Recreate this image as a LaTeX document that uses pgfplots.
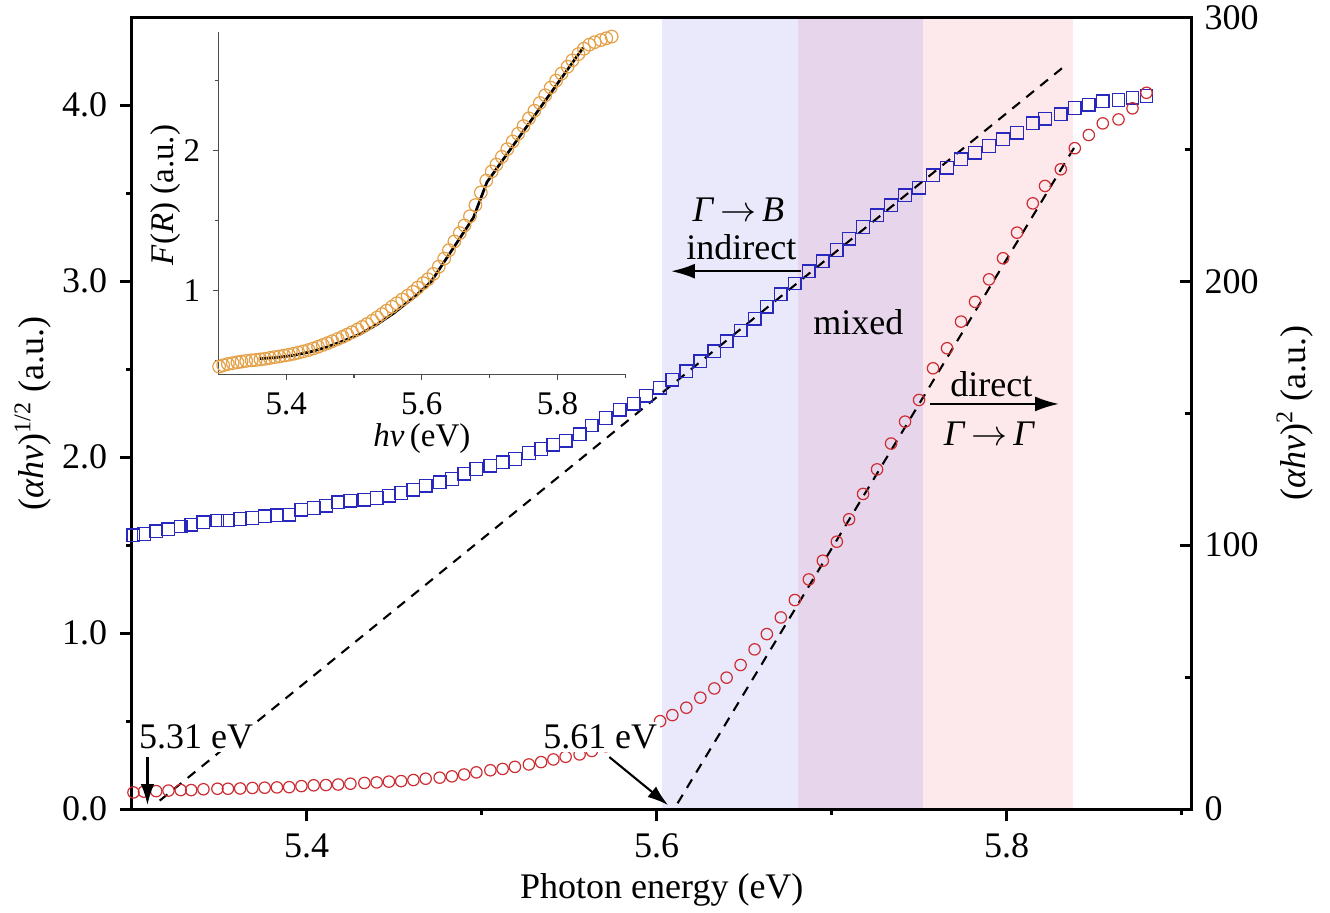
\documentclass[12pt,border=0pt]{standalone}
\usepackage{fontspec}
\setmainfont{Liberation Serif}
\usepackage{pgfplots}
\usepackage{pgfplotstable}
\pgfplotsset{compat=1.18}
\usetikzlibrary{arrows.meta}

\definecolor{bandblue}{RGB}{233,233,251}
\definecolor{bandmix}{RGB}{231,214,235}
\definecolor{bandpink}{RGB}{253,233,235}
\definecolor{sqblue}{RGB}{40,40,190}
\definecolor{cred}{RGB}{205,45,50}
\definecolor{corange}{RGB}{228,160,70}

% E: photon energy, sq: (ahv)^1/2, ci: (ahv)^2, FR: Kubelka-Munk F(R)
\pgfplotstableread{
E     sq    ci    FR
5.301 1.555 6.3   0.455
5.307 1.563 6.6   0.465
5.314 1.578 6.8   0.474
5.321 1.591 7.0   0.480
5.328 1.606 7.2   0.486
5.334 1.616 7.2   0.491
5.341 1.629 7.5   0.496
5.349 1.640 7.7   0.500
5.355 1.640 7.7   0.503
5.362 1.648 7.8   0.507
5.369 1.654 8.0   0.511
5.376 1.663 8.1   0.517
5.383 1.669 8.2   0.523
5.390 1.673 8.3   0.528
5.397 1.701 8.7   0.534
5.404 1.711 9.0   0.540
5.411 1.724 9.1   0.547
5.418 1.743 9.3   0.555
5.425 1.752 9.6   0.564
5.433 1.758 9.9   0.574
5.440 1.768 10.1  0.585
5.447 1.781 10.4  0.597
5.454 1.796 10.6  0.610
5.461 1.815 11.0  0.623
5.468 1.838 11.5  0.637
5.476 1.857 11.9  0.653
5.483 1.876 12.4  0.668
5.490 1.906 13.1  0.684
5.497 1.933 13.9  0.701
5.505 1.952 14.7  0.720
5.512 1.970 15.2  0.739
5.519 1.990 16.0  0.759
5.527 2.024 16.9  0.783
5.534 2.047 17.8  0.806
5.541 2.071 18.8  0.830
5.548 2.094 19.8  0.855
5.556 2.130 20.7  0.883
5.563 2.180 22.0  0.908
5.571 2.223 23.8  0.935
5.579 2.270 25.8  0.962
5.587 2.304 28.0  0.990
5.594 2.350 30.5  1.020
5.602 2.394 33.3  1.052
5.609 2.441 35.6  1.080
5.617 2.488 38.4  1.118
5.625 2.545 42.2  1.170
5.633 2.602 45.7  1.228
5.640 2.659 49.8  1.288
5.648 2.720 54.6  1.350
5.656 2.786 60.5  1.410
5.663 2.855 66.3  1.465
5.671 2.925 72.6  1.530
5.679 2.987 79.2  1.610
5.687 3.057 87.0  1.700
5.695 3.114 94.1  1.785
5.703 3.177 101.3 1.850
5.710 3.241 109.8 1.900
5.718 3.308 119.4 1.955
5.726 3.374 128.7 2.010
5.734 3.431 138.5 2.065
5.742 3.488 146.8 2.120
5.750 3.532 155.0 2.175
5.758 3.602 167.0 2.230
5.766 3.645 174.6 2.285
5.774 3.693 184.7 2.340
5.782 3.731 192.2 2.395
5.790 3.768 200.7 2.450
5.798 3.807 208.7 2.500
5.806 3.845 218.4 2.550
5.815 3.898 229.5 2.600
5.822 3.924 236.1 2.645
5.831 3.949 242.4 2.690
5.839 3.985 250.4 2.728
5.847 4.004 255.4 2.757
5.855 4.023 259.8 2.775
5.864 4.030 261.3 2.790
5.872 4.044 265.5 2.803
5.880 4.053 271.4 2.815
}\spectra

\pgfplotsset{
  /pgf/number format/assume math mode=true,
  mainbox/.style={
    at={(0,0)}, anchor=south west,
    scale only axis, width=353.4pt, height=263.9pt,
    xmin=5.30, xmax=5.906,
    axis line style={line width=1pt},
    every tick/.style={black, line width=1pt},
  },
}

\begin{document}
\begin{tikzpicture}
\path[use as bounding box] (-43.9pt,-34.33pt) rectangle (399.4pt,269.67pt);

% left axis: (ahv)^1/2, indirect
\begin{axis}[
  mainbox,
  ymin=0, ymax=4.5,
  axis on top,
  tick align=outside,
  xtick pos=left, ytick pos=left,
  major tick length=4pt, minor tick length=2pt,
  xtick={5.4,5.6,5.8}, minor xtick={5.5,5.7,5.9},
  ytick={0,1,2,3,4}, minor ytick={0.5,1.5,2.5,3.5},
  xticklabel style={/pgf/number format/fixed, /pgf/number format/precision=1},
  yticklabel style={/pgf/number format/fixed, /pgf/number format/fixed zerofill, /pgf/number format/precision=1},
  xlabel={Photon energy (eV)},
  ylabel={(\textit{αhν})\textsuperscript{1/2} (a.u.)},
  xlabel style={at={(axis description cs:0.5,0)}, anchor=base, yshift=-29.7pt},
  ylabel style={at={(axis description cs:-0.0934,0.5)}, anchor=center},
]
\fill[bandblue] (axis cs:5.603,0) rectangle (axis cs:5.681,4.5);
\fill[bandmix]  (axis cs:5.681,0) rectangle (axis cs:5.752,4.5);
\fill[bandpink] (axis cs:5.752,0) rectangle (axis cs:5.838,4.5);
\addplot[only marks, mark=square, mark size=2.1pt, sqblue, mark options={line width=0.45pt}]
  table[x=E, y=sq] {\spectra};
\addplot[black, line width=0.7pt, dash pattern=on 3.3pt off 2.7pt]
  coordinates {(5.316,0.048) (5.834,4.229)};
\end{axis}

% right axis: (ahv)^2, direct
\begin{axis}[
  mainbox,
  ymin=0, ymax=300,
  axis x line=none, axis y line*=right,
  tick align=inside,
  major tick length=4pt, minor tick length=2.3pt,
  ytick={0,100,200,300}, minor ytick={50,150,250},
  ylabel={(\textit{αhν})\textsuperscript{2} (a.u.)},
  ylabel style={at={(axis description cs:1.097,0.5)}, anchor=center},
]
\addplot[only marks, mark=o, mark size=1.9pt, cred, mark options={line width=0.4pt}]
  table[x=E, y=ci] {\spectra};
\addplot[black, line width=0.7pt, dash pattern=on 3.3pt off 2.7pt]
  coordinates {(5.612,2.2) (5.839,251)};

\coordinate (t531) at (axis cs:5.3368,27.3);
\coordinate (a531a) at (axis cs:5.309,19.7);
\coordinate (a531b) at (axis cs:5.309,1.5);
\coordinate (t561) at (axis cs:5.5678,27.3);
\coordinate (a561a) at (axis cs:5.573,19.7);
\coordinate (a561b) at (axis cs:5.6066,1.5);
\coordinate (tgb) at (axis cs:5.6467,227.2);
\coordinate (tind) at (axis cs:5.6484,212.8);
\coordinate (aind1) at (axis cs:5.6825,203.8);
\coordinate (aind2) at (axis cs:5.6082,203.8);
\coordinate (tmix) at (axis cs:5.7153,184.3);
\coordinate (tdir) at (axis cs:5.7913,160.9);
\coordinate (adir1) at (axis cs:5.7561,153.5);
\coordinate (adir2) at (axis cs:5.830,153.5);
\coordinate (tgg) at (axis cs:5.7902,142.3);
\end{axis}

% annotations, on top of all markers
\node[fill=white, inner sep=1pt] at (t531) {5.31 eV};
\draw[-{Latex[length=7pt,width=4.5pt]}, line width=0.7pt] (a531a) -- (a531b);
\node[fill=white, inner sep=1pt] at (t561) {5.61 eV};
\draw[-{Latex[length=7pt,width=4.5pt]}, line width=0.7pt] (a561a) -- (a561b);
\node at (tgb) {\textit{Γ}\,$\rightarrow$\,\textit{B}};
\node at (tind) {indirect};
\draw[-{Latex[length=8pt,width=5pt]}, line width=0.8pt] (aind1) -- (aind2);
\node at (tmix) {mixed};
\node at (tdir) {direct};
\draw[-{Latex[length=8pt,width=5pt]}, line width=0.8pt] (adir1) -- (adir2);
\node at (tgg) {\textit{Γ}\,$\rightarrow$\,\textit{Γ}};

% inset: F(R)
\begin{axis}[
  at={(28.9pt,259.1pt)}, anchor=north west,
  scale only axis, width=135.6pt, height=114.2pt,
  xmin=5.30, xmax=5.90, ymin=0.4, ymax=2.85,
  axis x line*=bottom, axis y line*=left,
  axis line style={line width=0.4pt, black!70},
  every tick/.style={black!70, line width=0.4pt},
  tick align=outside,
  major tick length=1.9pt, minor tick length=1.2pt,
  xtick={5.4,5.6,5.8}, minor xtick={5.5,5.7,5.9},
  ytick={1,2}, minor ytick={0.5,1.5,2.5},
  xticklabel style={/pgf/number format/fixed, /pgf/number format/precision=1},
  tick label style={font=\fontsize{11}{13}\selectfont},
  label style={font=\fontsize{11}{13}\selectfont},
  xlabel={\textit{hν}\,(eV)},
  ylabel={\textit{F}(\textit{R}) (a.u.)},
  xlabel style={at={(axis description cs:0.5,0)}, anchor=base, yshift=-24.2pt},
  ylabel style={at={(axis description cs:-0.131,0.523)}, anchor=center},
]
\addplot[only marks, mark=o, mark size=2.1pt, corange, mark options={line width=0.4pt}]
  table[x=E, y=FR] {\spectra};
\addplot[black, line width=0.9pt] coordinates {
  (5.361,0.512) (5.385,0.520) (5.410,0.535) (5.435,0.560) (5.460,0.595)
  (5.485,0.640) (5.510,0.690) (5.535,0.760) (5.558,0.835) (5.575,0.900)
  (5.592,0.965) (5.614,1.065) (5.676,1.520) (5.696,1.774) (5.838,2.736)};
\end{axis}
\end{tikzpicture}
\end{document}
